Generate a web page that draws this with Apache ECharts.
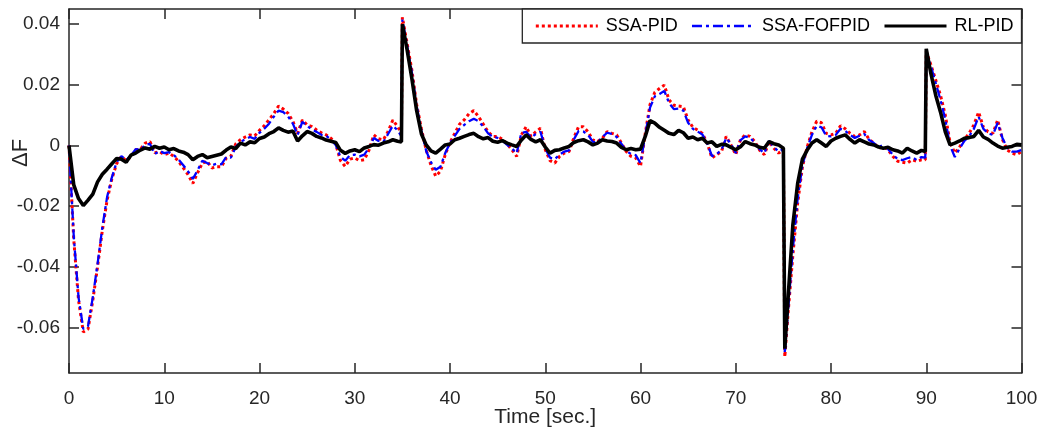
<!DOCTYPE html>
<html>
<head>
<meta charset="utf-8">
<script src="https://cdn.jsdelivr.net/npm/echarts@6/dist/echarts.min.js"></script>
<style>
html,body{margin:0;padding:0;background:#fff;}
#c{width:1041px;height:428px;}
</style>
</head>
<body>
<div id="c"></div>
<script>
// time samples [sec.]
const time = [
0,0.5,1,1.5,2,2.5,3,3.5,4,4.5,
5,5.5,6,6.5,7,7.5,8,8.5,9,9.5,
10,10.5,11,11.5,12,12.5,13,13.5,14,14.5,
15,15.5,16,16.5,17,17.5,18,18.5,19,19.5,
20,20.5,21,21.5,22,22.5,23,23.5,24,24.5,
25,25.5,26,26.5,27,27.5,28,28.5,29,29.5,
30,30.5,31,31.5,32,32.5,33,33.5,34,34.5,34.9,
35,35.5,36,36.5,37,37.5,38,38.5,39,39.5,
40,40.5,41,41.5,42,42.5,43,43.5,44,44.5,
45,45.5,46,46.5,47,47.5,48,48.5,49,49.5,
50,50.5,51,51.5,52,52.5,53,53.5,54,54.5,
55,55.5,56,56.5,57,57.5,58,58.5,59,59.5,
60,60.5,61,61.5,62,62.5,63,63.5,64,64.5,
65,65.5,66,66.5,67,67.5,68,68.5,69,69.5,
70,70.5,71,71.5,72,72.5,73,73.5,74,74.5,
75,75.15,75.5,76,76.5,77,77.5,78,78.5,79,79.5,
80,80.5,81,81.5,82,82.5,83,83.5,84,84.5,
85,85.5,86,86.5,87,87.5,88,88.5,89,89.5,89.9,
90,90.5,91,91.5,92,92.5,93,93.5,94,94.5,
95,95.5,96,96.5,97,97.5,98,98.5,99,99.5,
100
];

const ssaPid = [
0,-0.031,-0.051,-0.0615,-0.0605,-0.051,-0.040,-0.028,-0.018,-0.011,
-0.006,-0.0036,-0.005,-0.0036,-0.0014,-0.0012,0.0008,0.0013,-0.0024,-0.002,
-0.003,-0.0025,-0.0036,-0.0052,-0.0074,-0.0096,-0.0125,-0.009,-0.0058,-0.0052,
-0.0074,-0.007,-0.007,-0.0042,-0.0035,0.0005,0.0019,0.0028,0.0035,0.0032,
0.005,0.0065,0.0085,0.0105,0.013,0.012,0.0106,0.008,0.004,0.0084,
0.0068,0.0062,0.0051,0.0042,0.0035,0.0024,0.0005,-0.005,-0.0069,-0.0045,
-0.0041,-0.005,-0.0047,-0.0015,0.0035,0.0022,0.0019,0.0046,0.0084,0.0062,0.0041,
0.0423,0.0336,0.0248,0.0135,0.0055,-0.0015,-0.0065,-0.0101,-0.0085,-0.003,
0.001,0.004,0.007,0.0085,0.0105,0.0115,0.0095,0.007,0.0045,0.003,
0.003,0.002,0.0005,-0.0014,-0.0036,0.0035,0.0062,0.003,0.0045,0.0057,
-0.0014,-0.005,-0.0058,-0.0036,-0.0025,-0.002,0.0025,0.0062,0.0062,0.0045,
0.0018,0.0013,0.0024,0.0046,0.004,0.0035,0.0008,-0.002,-0.0036,-0.0041,
-0.0069,0.004,0.0135,0.0175,0.0188,0.0199,0.015,0.0133,0.013,0.0128,
0.0084,0.006,0.0051,0.004,0.0008,-0.0041,-0.003,-0.002,0.003,0.0002,
-0.003,0.002,0.0035,0.003,0.0013,-0.0015,-0.003,0.0013,-0.0009,-0.0025,
-0.0014,-0.0697,-0.055,-0.036,-0.019,-0.007,-0.0005,0.0045,0.008,0.0075,0.004,
0.0035,0.004,0.0065,0.0055,0.004,0.003,0.0035,0.0046,0.002,0.0008,
-0.0009,-0.0003,-0.0015,-0.0036,-0.0052,-0.0055,-0.0058,-0.0047,-0.0052,-0.0047,-0.0047,
0.031,0.0265,0.0215,0.0165,0.010,0.001,-0.0025,-0.0005,0.002,0.004,
0.0068,0.011,0.006,0.0045,0.004,0.0084,0.002,-0.0015,-0.0025,-0.003,
-0.002
];

const ssaFofpid = [
0,-0.030,-0.050,-0.0605,-0.0595,-0.050,-0.039,-0.027,-0.017,-0.0105,
-0.0055,-0.0035,-0.0048,-0.0034,-0.0012,-0.0015,0.0002,0.0005,-0.0028,-0.0018,
-0.0025,-0.0022,-0.0032,-0.0046,-0.0065,-0.0085,-0.011,-0.0082,-0.005,-0.0058,
-0.0065,-0.006,-0.0062,-0.0038,-0.004,-0.0005,0.0012,0.002,0.0028,0.0022,
0.0042,0.0055,0.0072,0.0095,0.0115,0.011,0.0096,0.0072,0.0035,0.0078,
0.0065,0.0052,0.0045,0.0035,0.0032,0.002,0.0002,-0.0038,-0.005,-0.0032,
-0.003,-0.0036,-0.003,-0.0008,0.0025,0.0015,0.0012,0.0038,0.0065,0.005,0.003,
0.0415,0.0328,0.024,0.013,0.0048,-0.0018,-0.0055,-0.008,-0.007,-0.0025,
0.0008,0.0032,0.0055,0.0068,0.008,0.0088,0.008,0.0062,0.004,0.0028,
0.0025,0.0016,0.0002,-0.001,-0.0025,0.0042,0.0045,0.0026,0.0038,0.0045,
-0.001,-0.004,-0.0045,-0.003,-0.002,-0.0016,0.002,0.0048,0.0046,0.0035,
0.0012,0.001,0.0028,0.0042,0.0038,0.0028,0.0005,-0.0018,-0.0028,-0.0032,
-0.0058,0.0035,0.0125,0.0162,0.017,0.018,0.014,0.012,0.0122,0.0115,
0.0075,0.0055,0.0046,0.0036,0.0008,-0.0035,-0.0028,-0.0015,0.0025,0.0005,
-0.0025,0.0018,0.003,0.0025,0.001,-0.0012,-0.0025,0.0015,-0.0005,-0.002,
-0.0012,-0.0685,-0.054,-0.034,-0.0175,-0.0065,-0.0008,0.0035,0.0065,0.006,0.0032,
0.003,0.0035,0.0055,0.0048,0.0035,0.0025,0.0032,0.0038,0.0018,0.0008,
-0.0005,0.0002,-0.0012,-0.003,-0.0045,-0.0048,-0.0042,-0.0038,-0.0048,-0.0038,-0.004,
0.0305,0.026,0.0205,0.015,0.0085,0,-0.0038,-0.001,0.0015,0.003,
0.0055,0.0095,0.0055,0.004,0.0035,0.0075,0.0025,-0.0008,-0.002,-0.002,
-0.0015
];

const rlPid = [
0,-0.013,-0.0175,-0.0198,-0.018,-0.016,-0.012,-0.0095,-0.0078,-0.006,
-0.0043,-0.0045,-0.0055,-0.0032,-0.0025,-0.0015,-0.0008,-0.0012,-0.0003,-0.0009,
-0.0005,-0.0014,-0.001,-0.0018,-0.0022,-0.003,-0.0047,-0.0036,-0.003,-0.004,
-0.0036,-0.0032,-0.0028,-0.0015,-0.0005,-0.001,0.0008,0.0002,0.0012,0.0009,
0.0023,0.0028,0.0039,0.0046,0.0058,0.005,0.0044,0.0048,0.0015,0.0032,
0.0046,0.004,0.003,0.0025,0.0018,0.0014,0.001,-0.0016,-0.0026,-0.0018,
-0.0014,-0.002,-0.0008,-0.0003,0.0003,0.0001,0.0008,0.0012,0.0019,0.0014,0.0012,
0.040,0.0315,0.022,0.0115,0.0038,0.0002,-0.0018,-0.0025,-0.0012,0.0002,
0.0005,0.0019,0.0024,0.003,0.0036,0.004,0.0029,0.0022,0.0026,0.0014,
0.0011,0.0016,0.0008,0.0002,-0.0003,0.0018,0.0035,0.002,0.0012,0.0019,
-0.0005,-0.0025,-0.0016,-0.0014,-0.0008,-0.0003,0.001,0.0016,0.0019,0.0012,
0.0002,0.0008,0.0019,0.0015,0.0013,0.0008,-0.0006,-0.0014,-0.001,-0.0014,
-0.0012,0.003,0.0082,0.0074,0.006,0.005,0.004,0.0036,0.005,0.0042,
0.0024,0.0028,0.0019,0.0024,0.0008,0.0012,-0.0003,0.0004,0.0002,-0.0006,
-0.0014,-0.0004,0.0013,0.0006,0.0002,-0.0006,-0.0009,0.0013,0.0006,0.0002,
-0.0009,-0.067,-0.050,-0.026,-0.0125,-0.0045,-0.0015,0.0008,0.0019,0.0008,-0.0003,
0.0015,0.0024,0.003,0.0035,0.002,0.0008,0.0019,0.0012,0.0005,0.0002,
-0.0005,-0.0009,-0.0006,-0.0014,-0.0018,-0.0025,-0.0009,-0.0018,-0.0025,-0.0016,-0.002,
0.0319,0.0235,0.0165,0.011,0.0045,0.0002,0.0008,0.0015,0.0024,0.0026,
0.003,0.005,0.0028,0.002,0.0008,-0.0002,-0.0009,-0.0006,-0.0003,0.0004,
0.0002
];

const seriesNames = ['SSA-PID', 'SSA-FOFPID', 'RL-PID'];
const xTicks = [0,10,20,30,40,50,60,70,80,90,100];
const yTicks = [-0.06,-0.04,-0.02,0,0.02,0.04];

const FONT = 'Liberation Sans, Arial, Helvetica, sans-serif';
const AXC = '#262626';

const styles = [
  {color:'#ff0000', width:3, type:'dotted'},
  {color:'#0000ff', width:2.3, type:[10,4,3,4]},
  {color:'#000000', width:3.6, type:'solid'}
];

function pairs(vals){ return time.map((t,i)=>[t, vals[i]]); }

const chart = echarts.init(document.getElementById('c'), null, {renderer:'canvas'});

const axisLineStyle = {show:true, onZero:false, lineStyle:{color:AXC, width:1.5}};
const tickStyle = {show:true, inside:true, length:10, lineStyle:{color:AXC, width:1.5}};

chart.setOption({
  animation:false,
  backgroundColor:'#fff',
  grid:{left:69, right:19.5, top:9, bottom:55, containLabel:false, outerBoundsMode:'none'},
  xAxis:[
    {type:'value', min:0, max:100, interval:10, position:'bottom',
     axisLine:axisLineStyle, axisTick:tickStyle, splitLine:{show:false},
     axisLabel:{color:AXC, fontSize:19, fontFamily:FONT, margin:16},
     name:'Time [sec.]', nameLocation:'middle', nameGap:34, nameMoveOverlap:false,
     nameTextStyle:{color:AXC, fontSize:21, fontFamily:FONT}},
    {type:'value', min:0, max:100, interval:10, position:'top',
     axisLine:axisLineStyle, axisTick:tickStyle, splitLine:{show:false},
     axisLabel:{show:false}}
  ],
  yAxis:[
    {type:'value', min:-0.075, max:0.045, position:'left',
     axisLine:axisLineStyle,
     axisTick:Object.assign({}, tickStyle, {customValues:yTicks}),
     splitLine:{show:false},
     axisLabel:{color:AXC, fontSize:19, fontFamily:FONT, margin:9, customValues:yTicks,
       formatter:v=>String(v)}},
    {type:'value', min:-0.075, max:0.045, position:'right',
     axisLine:axisLineStyle,
     axisTick:Object.assign({}, tickStyle, {customValues:yTicks}),
     splitLine:{show:false}, axisLabel:{show:false}}
  ],
  legend:{
    right:19.5, top:9, orient:'horizontal',
    data:seriesNames.map((n,i)=>({name:n, lineStyle:Object.assign({}, styles[i], {width:Math.min(styles[i].width,3)})})),
    itemWidth:62, itemHeight:10, itemGap:13,
    padding:[8,8,8,12],
    borderColor:AXC, borderWidth:1.3, backgroundColor:'#fff',
    itemStyle:{opacity:0},
    textStyle:{color:'#000', fontSize:18, fontFamily:FONT, padding:[0,0,0,3]},
    selectedMode:false
  },
  graphic:[{
    type:'text', x:21, y:153, rotation:Math.PI/2,
    style:{text:'ΔF', fontSize:22, fontFamily:FONT, fill:AXC, align:'center', verticalAlign:'middle'}
  }],
  series:[
    {name:seriesNames[0], type:'line', data:pairs(ssaPid), symbol:'none', showSymbol:false,
     lineStyle:styles[0], itemStyle:{color:styles[0].color}, z:2},
    {name:seriesNames[1], type:'line', data:pairs(ssaFofpid), symbol:'none', showSymbol:false,
     lineStyle:styles[1], itemStyle:{color:styles[1].color}, z:3},
    {name:seriesNames[2], type:'line', data:pairs(rlPid), symbol:'none', showSymbol:false,
     lineStyle:styles[2], itemStyle:{color:styles[2].color}, z:4}
  ]
});
</script>
</body>
</html>
